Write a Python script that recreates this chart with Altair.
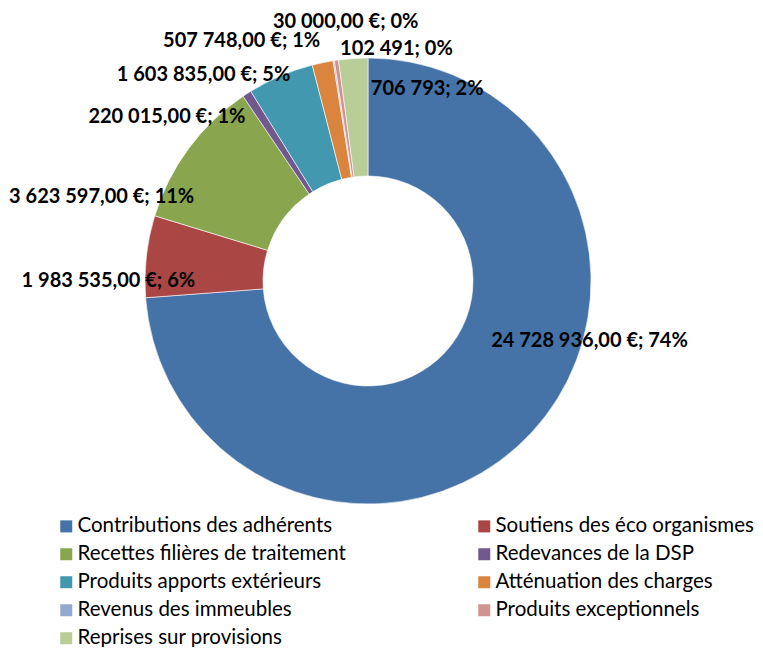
import altair as alt
import pandas as pd
import math

categories = [
    "Contributions des adhérents",
    "Soutiens des éco organismes",
    "Recettes filières de traitement",
    "Redevances de la DSP",
    "Produits apports extérieurs",
    "Atténuation des charges",
    "Revenus des immeubles",
    "Produits exceptionnels",
    "Reprises sur provisions",
]
values = [24728936, 1983535, 3623597, 220015, 1603835, 507748, 30000, 102491, 706793]
labels = [
    "24 728 936,00 €; 74%",
    "1 983 535,00 €; 6%",
    "3 623 597,00 €; 11%",
    "220 015,00 €; 1%",
    "1 603 835,00 €; 5%",
    "507 748,00 €; 1%",
    "30 000,00 €; 0%",
    "102 491; 0%",
    "706 793; 2%",
]
colors = ["#4572A7", "#AA4643", "#89A54E", "#71588F", "#4198AF",
          "#DB843D", "#93A9CF", "#D19392", "#B9CD96"]

# layout / style (not data)
W, H = 747, 639
CX, CY = 360, 273
R_OUT, R_IN = 223, 105
# label nudges from outer edge at slice mid-angle
nudge_x = [58, -38, -87, -80, -77, -81, 12, 60, 74]
nudge_y = [-92, 25, 49, 23, -1, -22, -39, -11, 31]

total = sum(values)
rows = []
cum = 0.0
for i, (c, v, lab) in enumerate(zip(categories, values, labels)):
    mid = (cum + v / 2) / total * 2 * math.pi
    cum += v
    lx = CX + R_OUT * math.sin(mid) + nudge_x[i]
    ly = CY - R_OUT * math.cos(mid) + nudge_y[i]
    rows.append({"cat": c, "value": v, "label": lab, "idx": i, "lx": lx, "ly": ly})
df = pd.DataFrame(rows)

# legend is filled column by column: reorder so rows read pairwise
legend_order = [categories[i] for i in range(0, len(categories), 2)] + \
               [categories[i] for i in range(1, len(categories), 2)]
legend_colors = [colors[categories.index(c)] for c in legend_order]
color_scale = alt.Scale(domain=legend_order, range=legend_colors)

arcs = alt.Chart(df).mark_arc(
    radius=R_OUT, innerRadius=R_IN, stroke="white", strokeWidth=0.6
).encode(
    theta=alt.Theta("value:Q", stack=True),
    order=alt.Order("idx:Q", sort="ascending"),
    color=alt.Color(
        "cat:N",
        scale=color_scale,
        sort=legend_order,
        legend=alt.Legend(
            title=None,
            orient="none",
            legendX=48,
            legendY=508,
            columns=2,
            symbolType="square",
            symbolSize=144,
            symbolStrokeWidth=0,
            labelFont="Lato",
            labelFontSize=20.5,
            labelColor="#000000",
            labelLimit=400,
            rowPadding=7,
            columnPadding=128,
            labelOffset=1,
        ),
    ),
    x=alt.value(CX),
    y=alt.value(CY),
)

texts = alt.Chart(df).mark_text(
    font="Lato", fontSize=20, fontWeight="bold", color="#000000",
    align="center", baseline="middle"
).encode(
    x=alt.X("lx:Q", scale=None),
    y=alt.Y("ly:Q", scale=None),
    text="label:N",
)

chart = alt.layer(arcs, texts).properties(
    width=W, height=H, padding=0, autosize=alt.AutoSizeParams(type="none")
).configure_view(stroke=None)

chart.save("out.html", embed_options={"renderer": "svg", "actions": False})
